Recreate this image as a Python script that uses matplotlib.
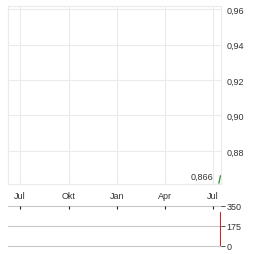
import numpy as np
import matplotlib.pyplot as plt
import matplotlib.dates as mdates
import datetime as dt

# price data (only the last few days are visible)
price_dates = ['2024-07-12', '2024-07-15']
prices = [0.862, 0.866]
last_label = '0,866'

vol_dates = ['2024-07-15']
volumes = [300]

y_ticks = [0.88, 0.90, 0.92, 0.94, 0.96]
vol_ticks = [0, 175, 350]
month_ticks = ['2023-07-01', '2023-10-01', '2024-01-01', '2024-04-01', '2024-07-01']
month_labels = ['Jul', 'Okt', 'Jan', 'Apr', 'Jul']

xmin = dt.datetime(2023, 6, 8)
xmax = dt.datetime(2024, 7, 16)

to_dt = lambda s: dt.datetime.strptime(s, '%Y-%m-%d')
pd_ = [to_dt(d) for d in price_dates]
vd_ = [to_dt(d) for d in vol_dates]
mt_ = [to_dt(d) for d in month_ticks]

plt.rcParams['font.family'] = ['Liberation Sans', 'DejaVu Sans']
W, H = 264, 255
fig = plt.figure(figsize=(W / 100, H / 100), dpi=100)

def rect(x0, y0, x1, y1):
    return [x0 / W, 1 - y1 / H, (x1 - x0) / W, (y1 - y0) / H]

txt = '#333333'
grid = '#ebebeb'
fs = 6.5

# upper price panel
ax = fig.add_axes(rect(8, 7, 221, 185))
ax.plot(pd_, prices, color='#3a9a3a', lw=1)
ax.set_xlim(xmin, xmax)
ax.set_ylim(0.8614, 0.9617)
ax.set_yticks(y_ticks)
ax.set_yticklabels([('%.2f' % v).replace('.', ',') for v in y_ticks])
ax.yaxis.tick_right()
ax.set_xticks(mt_)
ax.set_xticklabels(month_labels)
ax.tick_params(axis='both', length=0, labelsize=fs, colors=txt)
ax.tick_params(axis='y', pad=4)
ax.tick_params(axis='x', pad=5)
ax.grid(True, color=grid, lw=0.8)
for s in ax.spines.values():
    s.set_color(grid)
    s.set_linewidth(0.8)
ax.annotate(last_label, (pd_[-1], prices[-1]), xytext=(-5, 0), textcoords='offset points',
            ha='right', va='center', fontsize=fs, color=txt)

# lower volume panel
ax2 = fig.add_axes(rect(8, 207, 221, 247))
ax2.bar(vd_, volumes, width=0.8, color='#cc2222', edgecolor='#cc2222', lw=0.8)
ax2.set_xlim(xmin, xmax)
ax2.set_ylim(0, 350)
ax2.set_yticks(vol_ticks)
ax2.set_yticklabels([str(v) for v in vol_ticks])
ax2.yaxis.tick_right()
ax2.set_xticks(mt_)
ax2.set_xticklabels([])
ax2.xaxis.tick_top()
ax2.tick_params(axis='x', direction='in', length=2, width=0.8, colors='#222222')
ax2.tick_params(axis='y', length=3, width=0.6, labelsize=fs, colors=txt, pad=1)
for v in vol_ticks:
    ax2.axhline(v, color='#c8c8c8', lw=0.8, clip_on=False, zorder=0)
for s in ax2.spines.values():
    s.set_visible(False)

fig.savefig('out.png', dpi=100)
